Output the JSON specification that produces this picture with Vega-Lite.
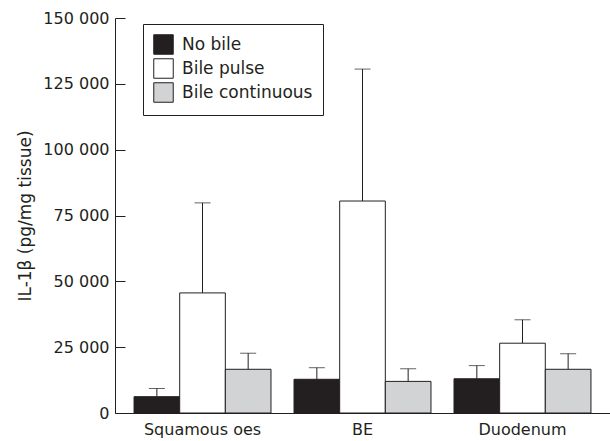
{
  "$schema": "https://vega.github.io/schema/vega-lite/v6.json",
  "width": 495,
  "height": 395,
  "autosize": "none",
  "padding": {"left": 115, "top": 18, "right": 0, "bottom": 28},
  "background": "white",
  "config": {
    "view": {"stroke": null},
    "font": "DejaVu Sans",
    "axis": {"grid": false, "domainColor": "#231f20", "tickColor": "#231f20", "labelColor": "#231f20", "titleColor": "#231f20", "labelFontSize": 16, "titleFontSize": 17, "titleFontWeight": "normal", "labelFont": "DejaVu Sans", "titleFont": "DejaVu Sans"}
  },
  "data": {
    "values": [
      {"site": "Squamous oes", "condition": "No bile", "value": 6200, "err": 9300},
      {"site": "Squamous oes", "condition": "Bile pulse", "value": 45600, "err": 79800},
      {"site": "Squamous oes", "condition": "Bile continuous", "value": 16600, "err": 22700},
      {"site": "BE", "condition": "No bile", "value": 12800, "err": 17200},
      {"site": "BE", "condition": "Bile pulse", "value": 80500, "err": 130600},
      {"site": "BE", "condition": "Bile continuous", "value": 12000, "err": 16800},
      {"site": "Duodenum", "condition": "No bile", "value": 13000, "err": 18000},
      {"site": "Duodenum", "condition": "Bile pulse", "value": 26500, "err": 35400},
      {"site": "Duodenum", "condition": "Bile continuous", "value": 16600, "err": 22500}
    ]
  },
  "encoding": {
    "x": {
      "field": "site", "type": "nominal", "sort": ["Squamous oes", "BE", "Duodenum"],
      "scale": {"paddingInner": 0.144, "paddingOuter": 0.119},
      "axis": {"title": null, "labelAngle": 0, "ticks": false, "labelPadding": 8, "domainWidth": 1}
    },
    "xOffset": {"field": "condition", "type": "nominal", "sort": ["No bile", "Bile pulse", "Bile continuous"], "scale": {"paddingInner": 0, "paddingOuter": 0}}
  },
  "layer": [
    {
      "mark": {"type": "rule", "color": "#231f20", "strokeWidth": 1},
      "encoding": {
        "y": {"field": "value", "type": "quantitative"},
        "y2": {"field": "err"}
      }
    },
    {
      "mark": {"type": "tick", "color": "#231f20", "size": 16, "thickness": 1},
      "encoding": {
        "y": {"field": "err", "type": "quantitative"}
      }
    },
    {
      "mark": {"type": "bar", "stroke": "#231f20", "strokeWidth": 1, "opacity": 1},
      "encoding": {
        "y": {
          "field": "value", "type": "quantitative",
          "scale": {"domain": [0, 150000], "nice": false},
          "axis": {"title": "IL-1β (pg/mg tissue)", "values": [0, 25000, 50000, 75000, 100000, 125000, 150000], "labelExpr": "replace(format(datum.value, ',d'), ',', ' ')", "tickSize": -10, "labelPadding": 16, "titlePadding": 8}
        },
        "fill": {
          "field": "condition", "type": "nominal",
          "scale": {"domain": ["No bile", "Bile pulse", "Bile continuous"], "range": ["#231f20", "#ffffff", "#d1d3d4"]},
          "legend": {
            "title": null, "orient": "none", "legendX": 28, "legendY": 6,
            "symbolType": "square", "symbolSize": 380, "symbolStrokeColor": "#231f20", "symbolStrokeWidth": 1,
            "labelFontSize": 17, "labelFont": "DejaVu Sans", "labelColor": "#231f20", "labelOffset": 8,
            "rowPadding": -1, "padding": 10, "strokeColor": "#231f20", "fillColor": "white"
          }
        }
      }
    }
  ]
}
